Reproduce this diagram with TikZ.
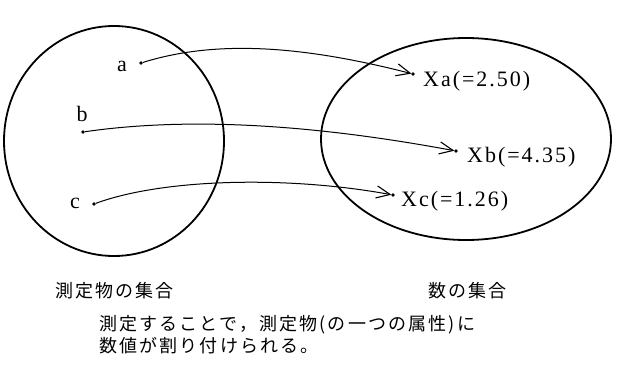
\documentclass[tikz,border=0pt]{standalone}
\usepackage{fontspec}
\usetikzlibrary{calc}
\newfontfamily\cjkfont[LetterSpace=12]{Noto Sans CJK JP}
\newfontfamily\latfont[LetterSpace=9]{Liberation Serif}
\tikzset{
  setline/.style={line width=1.8pt},
  pt/.style={circle,fill=black,inner sep=0pt,minimum size=3.6pt},
  lbl/.style={inner sep=0pt,font=\fontsize{22}{24}\selectfont\latfont},
  cjk/.style={inner sep=0pt,anchor=west,font=\fontsize{18}{23}\selectfont\cjkfont},
  mapline/.style={line width=1pt},
  barbline/.style={line width=1.1pt,line join=miter}
}
\begin{document}
\begin{tikzpicture}[x=1pt,y=-1pt]
\useasboundingbox (0,0) rectangle (620,380);
% sets
\draw[setline] (114,141) ellipse [x radius=110, y radius=115];
\draw[setline] (466,139) ellipse [x radius=145, y radius=101];
% elements
\node[pt] (a) at (141,63) {};
\node[pt] (b) at (83,132) {};
\node[pt] (c) at (94,204) {};
\node[lbl] (la) at (122,66) {a};
\node[lbl] (lb) at (82,114) {b};
\node[lbl] (lc) at (75,203) {c};
% values
\node[pt] (xa) at (413,74) {};
\node[pt] (xb) at (456,151) {};
\node[pt] (xc) at (393,195) {};
\node[lbl,anchor=base west] (txa) at (423,86) {Xa(=2.50)};
\node[lbl,anchor=base west] (txb) at (467,162) {Xb(=4.35)};
\node[lbl,anchor=base west] (txc) at (401,206) {Xc(=1.26)};
% control points and arrow tips
\coordinate (ca) at (300,45);
\coordinate (cb) at (300,122);
\coordinate (cc) at (290,176);
\coordinate (ta) at ($(xa)!3pt!(ca)$);
\coordinate (tb) at ($(xb)!3pt!(cb)$);
\coordinate (tc) at ($(xc)!3pt!(cc)$);
% mappings
\draw[mapline] (a) .. controls (215,40) and (ca) .. (ta);
\draw[mapline] (b) .. controls (180,118) and (cb) .. (tb);
\draw[mapline] (c) .. controls (165,178) and (cc) .. (tc);
\draw[barbline] ($(ta)!15pt!24:(ca)$) -- (ta) -- ($(ta)!15pt!-24:(ca)$);
\draw[barbline] ($(tb)!15pt!24:(cb)$) -- (tb) -- ($(tb)!15pt!-24:(cb)$);
\draw[barbline] ($(tc)!15pt!24:(cc)$) -- (tc) -- ($(tc)!15pt!-24:(cc)$);
% captions
\node[cjk] (cap1) at (55,291) {測定物の集合};
\node[cjk] (cap2) at (428,291) {数の集合};
\node[cjk] (note1) at (99,325) {測定することで，測定物(の一つの属性)に};
\node[cjk] (note2) at (99,346) {数値が割り付けられる。};
\end{tikzpicture}
\end{document}
